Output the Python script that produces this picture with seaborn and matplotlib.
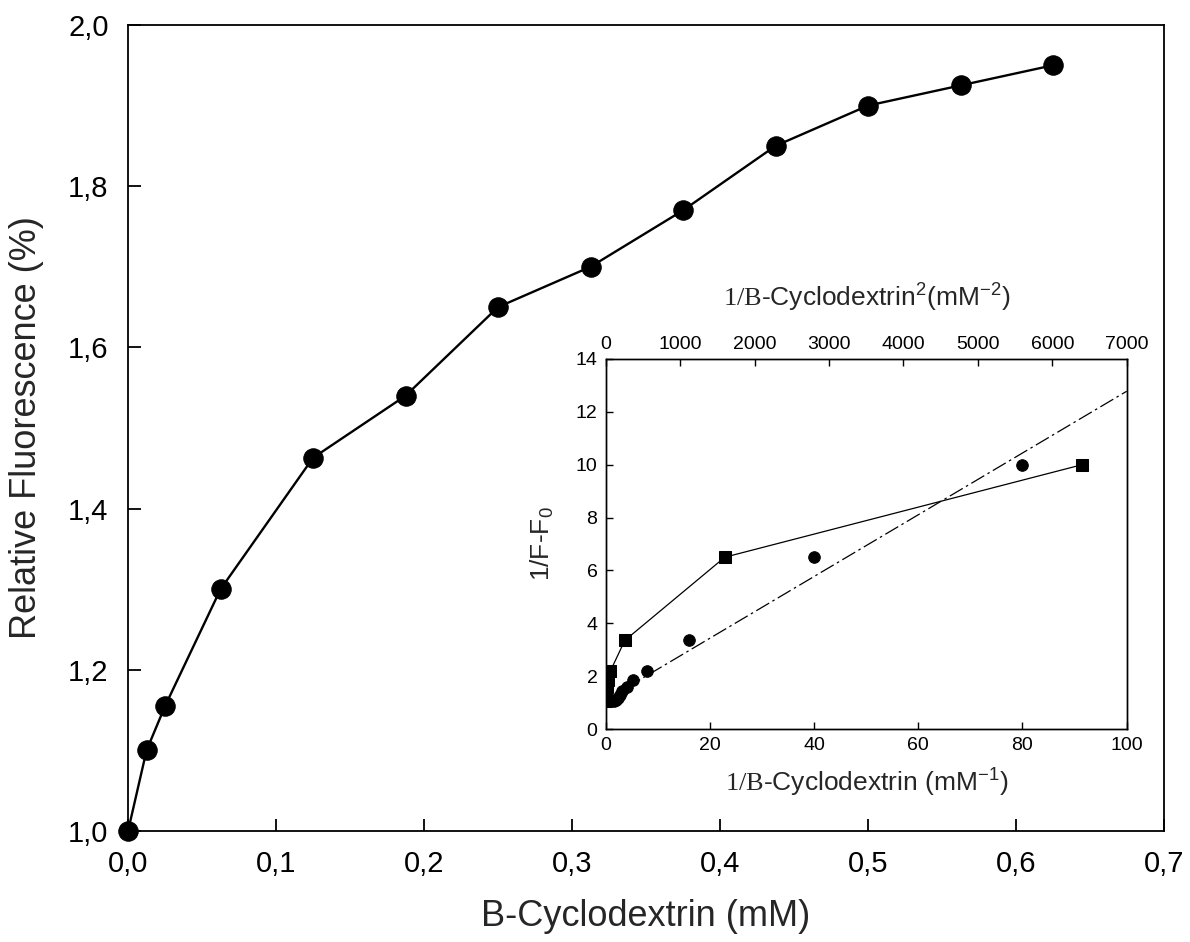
import numpy as np
import pandas as pd
import seaborn as sns
import matplotlib
matplotlib.use("Agg")
import matplotlib.pyplot as plt
from matplotlib.ticker import FuncFormatter, MultipleLocator

# main curve: relative fluorescence vs B-cyclodextrin
conc = [0.0, 0.0125, 0.025, 0.0625, 0.125, 0.1875, 0.25, 0.3125, 0.375, 0.4375, 0.5, 0.5625, 0.625]
rel_fluo = [1.0, 1.10, 1.155, 1.30, 1.463, 1.54, 1.65, 1.70, 1.77, 1.85, 1.90, 1.925, 1.95]

# inset: double reciprocal (circles, bottom axis) and 1/x^2 (squares, top axis)
inv_conc = [80, 40, 16, 8, 5.33, 4, 3.2, 2.67, 2.29, 2, 1.78, 1.6]
inv_conc2 = [6400, 1600, 256, 64, 28.4, 16, 10.2, 7.1, 5.2, 4, 3.2, 2.56]
inv_df = [10.0, 6.5, 3.35, 2.2, 1.87, 1.6, 1.45, 1.3, 1.18, 1.1, 1.08, 1.05]

sns.set_theme(style="ticks")
plt.rcParams['font.family'] = ['Liberation Sans', 'DejaVu Sans']
plt.rcParams['mathtext.fontset'] = 'custom'
plt.rcParams['mathtext.rm'] = 'Liberation Serif'
plt.rcParams['mathtext.sf'] = 'Liberation Sans'
plt.rcParams['axes.edgecolor'] = 'black'
plt.rcParams['axes.linewidth'] = 1.3
plt.rcParams['xtick.color'] = 'black'
plt.rcParams['ytick.color'] = 'black'

comma = FuncFormatter(lambda v, p: ("%.1f" % v).replace('.', ','))

fig = plt.figure(figsize=(11.9, 9.42), dpi=100)
ax = fig.add_axes([0.1076, 0.1178, 0.8706, 0.8557])

main = pd.DataFrame({'conc': conc, 'fluo': rel_fluo})
sns.lineplot(data=main, x='conc', y='fluo', ax=ax, color='black', lw=1.7,
             marker='o', markersize=14, markeredgecolor='black', clip_on=False, zorder=5)
ax.set_xlim(0, 0.7)
ax.set_ylim(1.0, 2.0)
ax.xaxis.set_major_locator(MultipleLocator(0.1))
ax.yaxis.set_major_locator(MultipleLocator(0.2))
ax.xaxis.set_major_formatter(comma)
ax.yaxis.set_major_formatter(comma)
ax.tick_params(direction='in', length=9, width=1.3, labelsize=21, pad=14,
               top=False, right=False)
ax.set_xlabel('B-Cyclodextrin (mM)', fontsize=26, labelpad=15)
ax.set_ylabel('Relative Fluorescence (%)', fontsize=26, labelpad=17)

# inset
ax2 = fig.add_axes([0.509, 0.2261, 0.4378, 0.3928])
ax2.set_xlim(0, 100)
ax2.set_ylim(0, 14)
sns.regplot(x=inv_conc, y=inv_df, ax=ax2, scatter=False, ci=None, truncate=False,
            line_kws=dict(color='black', lw=0.9, dashes=(12, 3, 2, 3)))
sns.scatterplot(x=inv_conc, y=inv_df, ax=ax2, marker='o', s=70, color='black',
                edgecolor='black', zorder=4)
ax2.set_xlim(0, 100)
ax2.set_ylim(0, 14)
ax2.xaxis.set_major_locator(MultipleLocator(20))
ax2.yaxis.set_major_locator(MultipleLocator(2))
ax2.tick_params(direction='in', length=5, width=1, labelsize=14, pad=6,
                top=False, right=False)
ax2.set_xlabel(r'$\mathrm{1/B}$-Cyclodextrin (mM$^{\mathsf{-1}}$)', fontsize=19, labelpad=8)
ax2.set_ylabel(r'1/F-F$_{\mathsf{0}}$', fontsize=19, labelpad=14)

ax3 = ax2.twiny()
sq = pd.DataFrame({'x': inv_conc2, 'y': inv_df})
sns.lineplot(data=sq, x='x', y='y', ax=ax3, color='black', lw=0.9,
             marker='s', markersize=9, markeredgecolor='black')
ax3.set_xlim(0, 7000)
ax3.xaxis.set_major_locator(MultipleLocator(1000))
ax3.tick_params(direction='in', length=5, width=1, labelsize=14, pad=4)
ax3.set_xlabel(r'$\mathrm{1/B}$-Cyclodextrin$^{\mathsf{2}}$(mM$^{\mathsf{-2}}$)',
               fontsize=19, labelpad=22)
ax3.set_ylabel('')
for a in (ax2, ax3):
    for s in a.spines.values():
        s.set_linewidth(1.0)

fig.savefig('out.png', dpi=100)
